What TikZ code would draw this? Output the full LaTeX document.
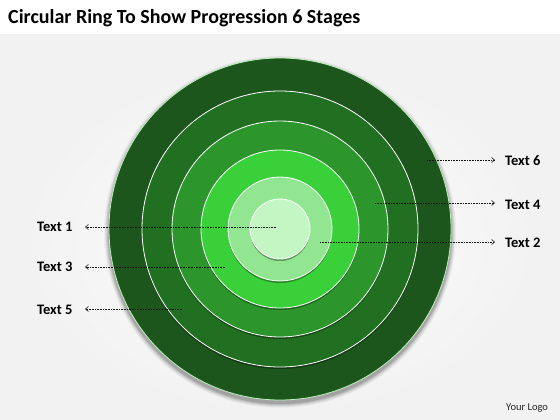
\documentclass[tikz,border=0pt]{standalone}
\usepackage{fontspec}
\setmainfont{Carlito}
\usetikzlibrary{arrows.meta,shadows,fadings}
\definecolor{bgc}{RGB}{242,242,242}
\definecolor{ringA}{RGB}{28,86,28}
\definecolor{ringB}{RGB}{33,112,33}
\definecolor{ringC}{RGB}{44,150,44}
\definecolor{ringD}{RGB}{58,208,58}
\definecolor{ringE}{RGB}{146,230,146}
\definecolor{ringF}{RGB}{196,246,196}
\definecolor{leader}{RGB}{20,20,20}
\tikzset{
  ring/.style={circle, draw=white, line width=0.8pt, inner sep=0pt, minimum size=#1},
  ringshadow/.style={drop shadow={shadow xshift=0pt, shadow yshift=-2pt, opacity=0.35, fill=black}},
  lbl/.style={font=\bfseries\fontsize{14.5}{17}\selectfont, text=black, inner sep=0pt},
  leaderline/.style={draw=leader, line width=0.6pt, densely dotted, -{Straight Barb[length=3pt,width=5pt]}}
}
\begin{document}
\begin{tikzpicture}[x=1pt,y=-1pt]
\useasboundingbox (0,0) rectangle (560,420);
\fill[bgc] (0,0) rectangle (560,420);
\fill[white] (0,0) rectangle (560,34);
\shade[inner color=white, outer color=bgc, opacity=0.8] (280,240) ellipse (280 and 190);
\node[anchor=west, font=\bfseries\fontsize{20}{23}\selectfont, inner sep=0pt] (title) at (8,18) {Circular Ring To Show Progression 6 Stages};
% shadow of outer disc
\foreach \r/\o in {176/0.04,175/0.05,174/0.07,173/0.09,172/0.12}{
  \fill[black, opacity=\o] (280,232) circle (\r);
}
\node[ring=342pt, fill=ringA, draw=ringE!60!white] (c1) at (280,229) {};
\node[ring=276pt, fill=ringB, ringshadow] (c2) at (280,229) {};
\node[ring=216pt, fill=ringC, ringshadow] (c3) at (280,229) {};
\node[ring=158pt, fill=ringD, ringshadow] (c4) at (280,229) {};
\node[ring=104pt, fill=ringE, ringshadow] (c5) at (280,229) {};
\node[ring=60pt, fill=ringF, ringshadow] (c6) at (280,229) {};
% labels
\node[lbl, anchor=west] (t1) at (37,227) {Text 1};
\node[lbl, anchor=west] (t3) at (37,267) {Text 3};
\node[lbl, anchor=west] (t5) at (37,310) {Text 5};
\node[lbl, anchor=west] (t6) at (505,161) {Text 6};
\node[lbl, anchor=west] (t4) at (505,205) {Text 4};
\node[lbl, anchor=west] (t2) at (505,243) {Text 2};
% leader start points
\coordinate (p1) at (276,227);
\coordinate (p3) at (225,267);
\coordinate (p5) at (182,309);
\coordinate (p6) at (427,160);
\coordinate (p4) at (375,203);
\coordinate (p2) at (320,242);
\coordinate (e1) at (85,227);
\coordinate (e3) at (85,267);
\coordinate (e5) at (85,309);
\coordinate (e6) at (495,160);
\coordinate (e4) at (495,203);
\coordinate (e2) at (495,242);
\draw[leaderline] (p1) -- (e1);
\draw[leaderline] (p3) -- (e3);
\draw[leaderline] (p5) -- (e5);
\draw[leaderline] (p6) -- (e6);
\draw[leaderline] (p4) -- (e4);
\draw[leaderline] (p2) -- (e2);
\node[anchor=west, font=\fontsize{10.5}{12}\selectfont, text=black!85, inner sep=0pt] (logo) at (506,408) {Your Logo};
\end{tikzpicture}
\end{document}
